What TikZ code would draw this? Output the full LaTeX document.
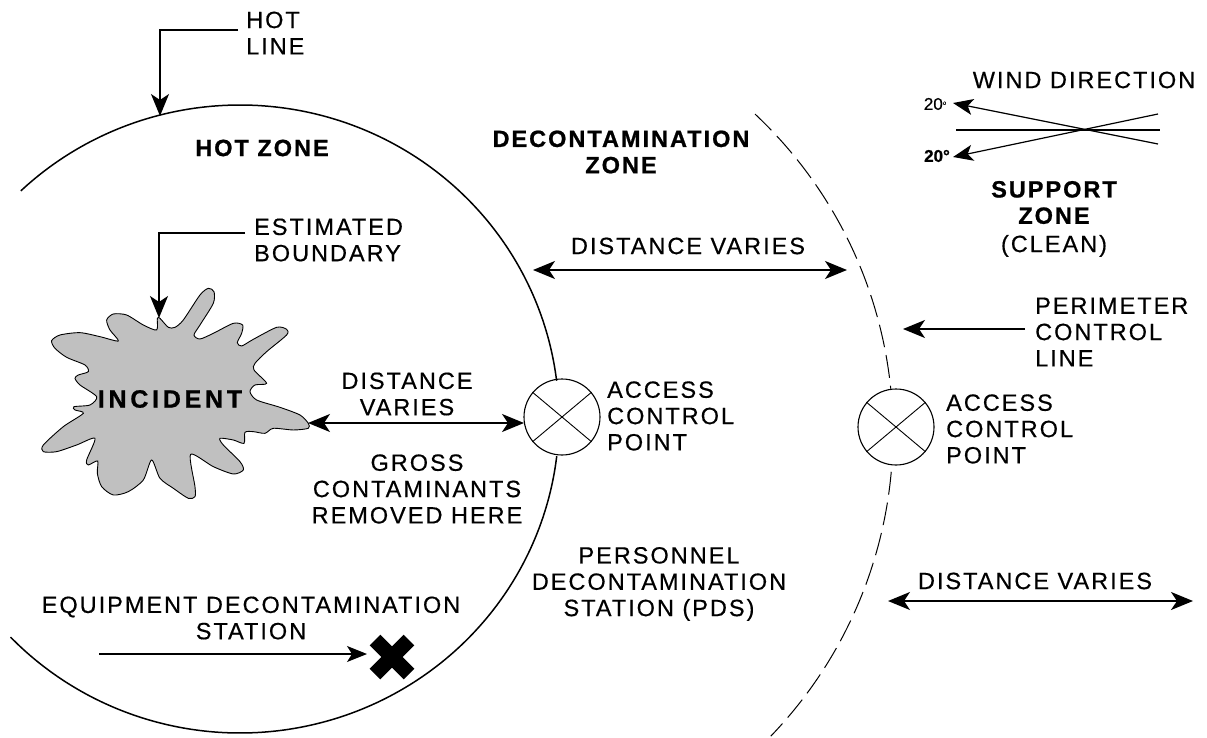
\documentclass[tikz,border=0pt]{standalone}
\usepackage{fontspec}
\setmainfont{Liberation Sans}[LetterSpace=8.5,FakeBold=0.45,BoldFeatures={FakeBold=0.9}]
\usetikzlibrary{arrows.meta}
\tikzset{
 x=1pt,y=-1pt,
 lbl/.style={font=\fontsize{23.5}{26.3}\selectfont,inner sep=0pt,align=center,text=black},
 lblleft/.style={lbl,align=left,anchor=west},
 blbl/.style={lbl,font=\fontsize{23.5}{26.3}\selectfont\bfseries},
 big/.style={-{Stealth[length=22pt,width=18pt,inset=6pt]},line width=1.8pt},
 bigboth/.style={{Stealth[length=22pt,width=18pt,inset=6pt]}-{Stealth[length=22pt,width=18pt,inset=6pt]},line width=1.8pt},
 small/.style={-{Stealth[length=20pt,width=16pt,inset=5pt]},line width=1.2pt},
 zone/.style={line width=1.5pt},
 perim/.style={line width=1pt,dash pattern=on 23pt off 8pt},
 acp/.style={circle,draw,line width=1.1pt,minimum size=76pt,inner sep=0pt},
 blob/.style={fill={rgb,255:red,192;green,192;blue,192},draw=black,line width=0.9pt},
}
\begin{document}
\begin{tikzpicture}
\useasboundingbox (0,0) rectangle (1207,738);
% zones
\draw[zone] plot[domain=-7:-133.4,samples=80,smooth] ({240+319*cos(\x)},{419+314*sin(\x)});
\draw[zone] plot[domain=6.8:136,samples=80,smooth] ({240+319*cos(\x)},{419+314*sin(\x)});
\draw[perim] plot[domain=-46.8:-5.8,samples=60,smooth] ({455.6+437.4*cos(\x)},{432.9+437.4*sin(\x)});
\draw[perim] plot[domain=5.1:43.9,samples=60,smooth] ({455.6+437.4*cos(\x)},{432.9+437.4*sin(\x)});
% incident
\begin{scope}[shift={(0,270)},x=0.3333pt,y=-0.3333pt]
\draw[blob] plot[smooth cycle,tension=0.45] coordinates {
(472,145)(480,145)(505,172)(525,172)(550,150)(600,75)(625,55)(642,65)(640,100)(600,165)(582,195)(600,207)(640,190)(700,160)(728,165)(725,190)(712,218)(725,228)(760,208)(830,172)(860,178)(860,195)(800,245)(765,280)(762,300)(800,340)(765,345)(750,365)(770,390)(840,412)(900,435)(925,460)(925,475)(880,480)(820,475)(795,490)(760,485)(735,487)(732,520)(700,510)(660,505)(670,525)(720,575)(730,600)(700,612)(640,590)(572,553)(585,650)(585,680)(565,685)(520,655)(480,625)(455,570)(430,630)(385,665)(340,675)(305,650)(292,610)(293,573)(265,585)(260,570)(285,505)(230,525)(170,545)(130,545)(130,525)(190,470)(250,430)(225,420)(222,410)(270,405)(290,380)(240,345)(225,325)(235,315)(265,305)(255,285)(200,262)(165,235)(155,212)(180,195)(240,188)(300,200)(355,213)(330,180)(320,150)(340,132)(380,135)(430,165)(470,180)};
\end{scope}
% access control circles
\node[acp] (acp1) at (562,417) {};
\node[acp] (acp2) at (896,427) {};
\draw[line width=0.9pt] (acp1.140)--(acp1.-40) (acp1.220)--(acp1.40);
\draw[line width=0.9pt] (acp2.140)--(acp2.-40) (acp2.220)--(acp2.40);
% labels
\node[lblleft] (hotline) at (246,33) {HOT\\LINE};
\node[blbl] (hotzone) at (262,148) {HOT ZONE};
\node[blbl] (deconzone) at (621,152) {DECONTAMINATION\\ZONE};
\node[lbl] (dv1) at (688,246) {DISTANCE VARIES};
\node[lblleft] (estb) at (254,240) {ESTIMATED\\BOUNDARY};
\node[blbl,font=\fontsize{25}{28}\selectfont\bfseries\addfontfeature{LetterSpace=15}] (incident) at (170,399) {INCIDENT};
\node[lbl] (dv2) at (407,394) {DISTANCE\\VARIES};
\node[lblleft] (acpt1) at (607,416) {ACCESS\\CONTROL\\POINT};
\node[lblleft] (acpt2) at (946,429) {ACCESS\\CONTROL\\POINT};
\node[lbl] (gross) at (417,489) {GROSS\\CONTAMINANTS\\REMOVED HERE};
\node[lbl] (pds) at (659,584) {PERSONNEL\\DECONTAMINATION\\STATION (PDS)};
\node[lbl] (equip) at (251,618) {EQUIPMENT DECONTAMINATION\\STATION};
\node[lbl] (dv3) at (1035,581) {DISTANCE VARIES};
\node[lblleft] (perimlbl) at (1035,332) {PERIMETER\\CONTROL\\LINE};
\node[lbl] (wind) at (1084,80) {WIND DIRECTION};
\node[lbl] (support) at (1054,219) {\bfseries SUPPORT\\\bfseries ZONE\\[2pt](CLEAN)};
\node[lbl,font=\fontsize{17}{19}\selectfont\addfontfeature{LetterSpace=0}] (up20) at (935,104) {20\raisebox{5pt}{\fontsize{6}{7}\selectfont o}};
\node[lbl,font=\fontsize{17}{19}\selectfont\bfseries\addfontfeature{LetterSpace=0}] (lo20) at (937,156) {20°};
% connector coordinates
\coordinate (hl0) at (238,30);
\coordinate (hl1) at (160,30);
\coordinate (hl2) at (160,116);
\coordinate (eb0) at (245,233);
\coordinate (eb1) at (159,233);
\coordinate (eb2) at (159,318);
\coordinate (a1) at (533,270);
\coordinate (a2) at (847,270);
\coordinate (b1) at (308,423);
\coordinate (b2) at (524,423);
\coordinate (c1) at (99,654);
\coordinate (c2) at (367,654);
\coordinate (d1) at (1025,329);
\coordinate (d2) at (903,329);
\coordinate (e1) at (888,601);
\coordinate (e2) at (1193,601);
\coordinate (w1) at (956,130);
\coordinate (w2) at (1160,130);
\coordinate (w3) at (1158,144);
\coordinate (w4) at (953,103);
\coordinate (w5) at (1158,114);
\coordinate (w6) at (953,157);
\coordinate (xm) at (392,657);
% connectors
\draw[big] (hl0)--(hl1)--(hl2);
\draw[big] (eb0)--(eb1)--(eb2);
\draw[bigboth] (a1)--(a2);
\draw[bigboth] (b1)--(b2);
\draw[small] (c1)--(c2);
\draw[big] (d1)--(d2);
\draw[bigboth] (e1)--(e2);
\draw[line width=1.4pt] (w1)--(w2);
\draw[small] (w3)--(w4);
\draw[small] (w5)--(w6);
% equipment mark
\draw[line width=15pt] ([shift={(-17,-17)}]xm)--([shift={(17,17)}]xm) ([shift={(-17,17)}]xm)--([shift={(17,-17)}]xm);
\end{tikzpicture}
\end{document}
